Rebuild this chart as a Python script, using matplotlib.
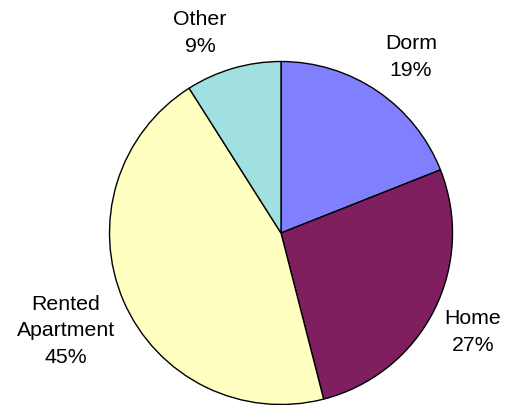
import matplotlib
matplotlib.use("Agg")
import matplotlib.pyplot as plt

categories = ["Dorm", "Home", "Rented\nApartment", "Other"]
shares = [19, 27, 45, 9]
colors = ["#8080FF", "#7F1F5F", "#FFFFC0", "#A0E0E0"]

W, H = 505, 405
fig = plt.figure(figsize=(W / 100, H / 100), dpi=100)
ax = fig.add_axes([0, 0, 1, 1])

cx, cy, r = 281, H - 233, 171.5
wedges, _ = ax.pie(shares, colors=colors, startangle=90, counterclock=False,
                   center=(cx, cy), radius=r,
                   wedgeprops=dict(edgecolor="black", linewidth=1.0))
for w in wedges:
    w.set_clip_on(False)
ax.set_xlim(0, W)
ax.set_ylim(0, H)
ax.set_aspect("equal")
ax.axis("off")

label_pos = [(411, 57), (473, 332), (66, 331), (200, 33)]
for cat, val, (px, py) in zip(categories, shares, label_pos):
    ax.text(px, H - py, f"{cat}\n{val}%", ha="center", va="center",
            fontsize=15.3, family="Liberation Sans", linespacing=1.5)

fig.savefig("out.png", dpi=100)
